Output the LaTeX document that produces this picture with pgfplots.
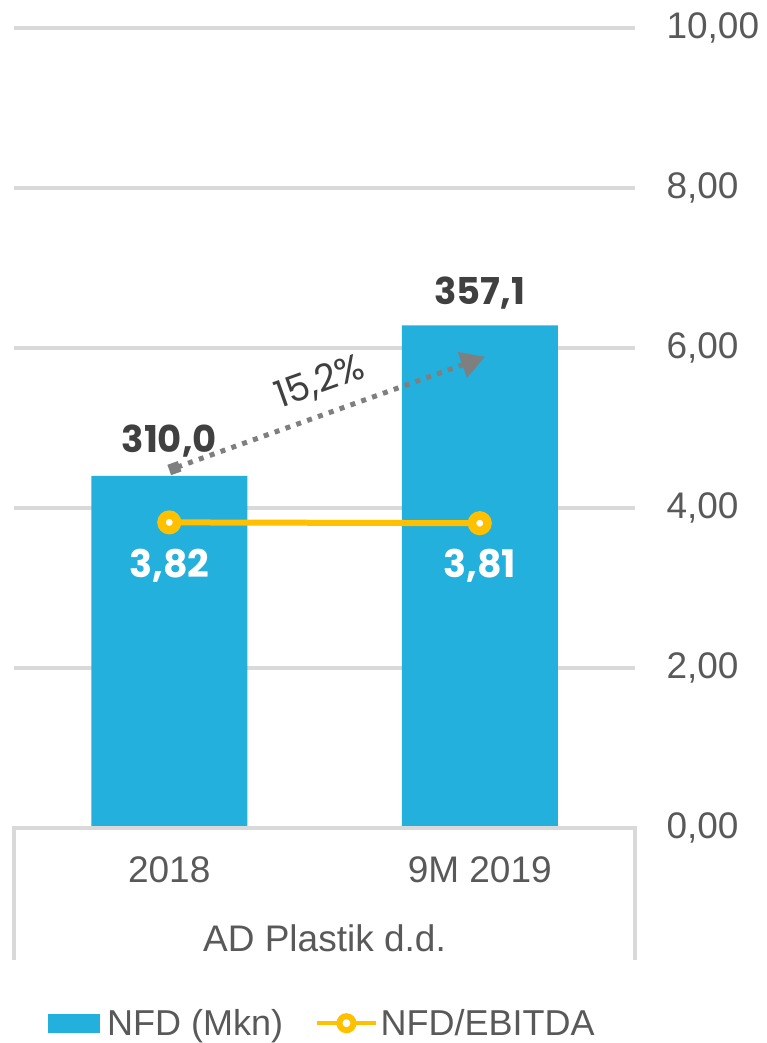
\documentclass[border=0pt]{standalone}
\usepackage{pgfplots}
\pgfplotsset{compat=1.18}
\usepackage{fontspec}
\setmainfont{Liberation Sans}
\newfontfamily\pop{Poppins}
\usetikzlibrary{arrows.meta}
\definecolor{barblue}{HTML}{23B0DC}
\definecolor{lineyellow}{HTML}{FFC000}
\definecolor{gridc}{HTML}{D9D9D9}
\definecolor{textgray}{HTML}{595959}
\definecolor{labeldark}{HTML}{404040}
\definecolor{arrowgray}{HTML}{7F7F7F}
\begin{document}
\begin{tikzpicture}[x=1pt,y=1pt]
\useasboundingbox (0,0) rectangle (766,1043);
% axis A: grid, ticks, labels
\begin{axis}[at={(14pt,215pt)}, anchor=south west, width=621pt, height=800pt, scale only axis,
  xmin=-0.5, xmax=1.5, ymin=0, ymax=10,
  axis line style={draw=none},
  ytick={0,2,...,10}, ymajorgrids, grid style={gridc, line width=3.5pt},
  major tick length=0pt,
  xtick={0,1}, xticklabels={2018, 9M 2019},
  yticklabel pos=right,
  tick label style={font=\fontsize{37}{44}\selectfont, text=textgray},
  yticklabel style={xshift=28pt, /pgf/number format/fixed, /pgf/number format/fixed zerofill, /pgf/number format/precision=2, /pgf/number format/use comma, /pgf/number format/assume math mode=true},
  xticklabel style={yshift=-25pt},
  xlabel={AD Plastik d.d.},
  xlabel style={font=\fontsize{37}{44}\selectfont, text=textgray, at={(axis description cs:0.5,0)}, anchor=center, yshift=-110pt},
  clip=false]
\addplot[draw=none] coordinates {(0,0) (1,0)};
\draw[gridc, line width=3.5pt] (axis cs:-0.5,-1.65) -- (axis cs:-0.5,0) -- (axis cs:1.5,0) -- (axis cs:1.5,-1.65);
\end{axis}
% axis B: bars (NFD, Mkn)
\begin{axis}[at={(14pt,215pt)}, anchor=south west, width=621pt, height=800pt, scale only axis,
  xmin=-0.5, xmax=1.5, ymin=200, ymax=450, hide axis, ybar, bar width=156pt]
\addplot[fill=barblue, draw=none] coordinates {(0,310.0) (1,357.1)};
\end{axis}
\draw[gridc, line width=3.5pt] (14,215) -- (635,215);
% axis C: line (NFD/EBITDA)
\begin{axis}[at={(14pt,215pt)}, anchor=south west, width=621pt, height=800pt, scale only axis,
  xmin=-0.5, xmax=1.5, ymin=0, ymax=10, hide axis, clip=false,
  legend columns=2,
  legend style={at={(axis description cs:0.0548,-0.244)}, anchor=west, draw=none, fill=none, inner sep=0pt,
    font=\fontsize{36}{42}\selectfont, text=textgray,
    /tikz/every even column/.append style={column sep=30pt}},
  legend cell align=left]
\addlegendimage{legend image code/.code={\fill[barblue, draw=none] (0pt,-9.5pt) rectangle (52pt,9.5pt); \path[draw=none, fill=none] (0pt,0pt) rectangle (57pt,1pt);}}
\addlegendentry{NFD (Mkn)}
\addplot[lineyellow, line width=6pt, mark=*, mark size=7.75pt,
  mark options={fill=white, draw=lineyellow, line width=8.5pt},
  legend image code/.code={\draw[lineyellow, line width=4.5pt] (0pt,0pt) -- (59pt,0pt);
    \draw[lineyellow, fill=white, line width=6pt] (29pt,0pt) circle (7pt);}]
  coordinates {(0,3.82) (1,3.81)};
\addlegendentry{NFD/EBITDA}
\node[font=\pop\bfseries\fontsize{37}{40}\selectfont, text=labeldark] at (axis cs:0,4.4) [yshift=35pt] {310,0};
\node[font=\pop\bfseries\fontsize{37}{40}\selectfont, text=labeldark] at (axis cs:1,6.284) [yshift=32pt] {357,1};
\node[font=\pop\bfseries\fontsize{38}{40}\selectfont, text=white] at (axis cs:0,3.82) [yshift=-43pt] {3,82};
\node[font=\pop\bfseries\fontsize{38}{40}\selectfont, text=white] at (axis cs:1,3.81) [yshift=-43pt] {3,81};
\draw[arrowgray, line width=5pt, dash pattern=on 5pt off 6.5pt,
  {Square[length=11pt,width=11pt]}-{Triangle[length=24pt,width=26pt]}]
  (axis cs:0,4.475) -- (axis cs:1.017,5.89);
\node[font=\pop\fontsize{37}{40}\selectfont, text=labeldark, rotate=19.6] at (axis cs:0.4855,5.57) {15,2\%};
\end{axis}
\end{tikzpicture}
\end{document}
